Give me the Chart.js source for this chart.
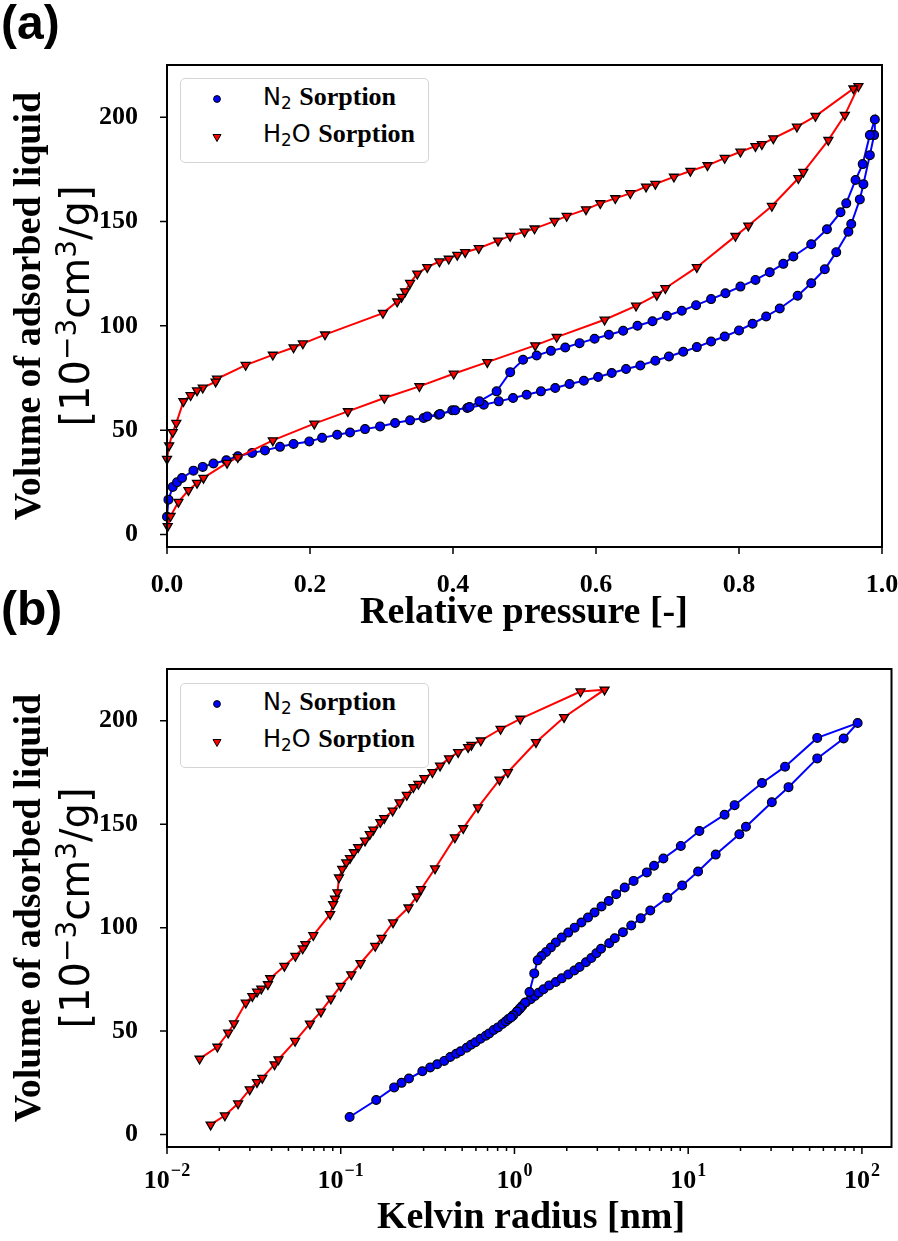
<!DOCTYPE html>
<html>
<head>
<meta charset="utf-8">
<script src="https://cdn.jsdelivr.net/npm/chart.js@4.4.0/dist/chart.umd.min.js"></script>
<style>
  body{margin:0;background:#fff}
  #page{position:relative;width:898px;height:1241px;overflow:hidden;background:#fff}
  #page canvas{position:absolute;left:0}
  .t{position:absolute;white-space:nowrap;color:#000}
  .serif{font-family:'Liberation Serif','Times New Roman',serif;font-weight:bold}
  .sans{font-family:'DejaVu Sans',sans-serif}
  .lbl{font-family:'Liberation Sans',Arial,sans-serif;font-weight:bold}
  .t sup,.t sub{line-height:0;font-size:0.7em}
  .t sup{vertical-align:0.45em}
  .t sub{vertical-align:-0.25em}
  .legend{position:absolute;box-sizing:border-box;border:1.5px solid #d4d4d4;border-radius:5px;background:#fff}
  .mk{position:absolute}
</style>
</head>
<body>
<div id="page">
  <canvas id="chartA" width="898" height="600" style="top:0"></canvas>
  <canvas id="chartB" width="898" height="641" style="top:600px"></canvas>
</div>
<script>
// ---- data: panel (a), relative pressure vs volume ----
const n2AdsP = [0,0.002,0.008,0.014,0.021,0.037,0.05,0.065,0.083,0.099,0.119,0.137,0.158,0.177,0.199,0.217,0.238,0.256,0.277,0.298,0.319,0.34,0.359,0.38,0.399,0.42,0.443,0.464,0.484,0.503,0.523,0.543,0.563,0.583,0.603,0.622,0.642,0.662,0.683,0.702,0.722,0.741,0.761,0.78,0.80,0.819,0.838,0.857,0.882,0.901,0.92,0.936,0.953,0.957,0.969,0.974,0.983,0.989,0.99];
const n2AdsV = [8.5,16.7,22.8,25,27.1,30.6,32.4,34,35.6,37.5,39.1,40.3,42,43.4,44.6,46.3,47.8,48.9,50.5,51.8,53.4,54.7,55.8,57.4,59.5,60.6,62.2,63.8,65.4,67,68.6,70.2,72.1,73.7,75.5,77.4,79.3,81,83.3,85.3,87.6,89.8,92.5,94.9,97.8,101,104.5,108.3,114.4,120.4,127.1,135.3,145.1,148.8,160.6,167.9,181.8,191.4,198.9];
const n2DesP = [0.983,0.973,0.963,0.95,0.942,0.923,0.901,0.876,0.862,0.843,0.823,0.802,0.781,0.761,0.74,0.72,0.699,0.679,0.658,0.638,0.618,0.598,0.577,0.557,0.537,0.517,0.498,0.48,0.461,0.437,0.423,0.403,0.382,0.364];
const n2DesV = [191.4,177.5,169.9,158.7,154.4,146.3,139.1,133.2,129.7,125.7,122,118.8,115.6,112.8,109.9,107.2,104.8,102.2,100,97.6,95.7,93.8,91.7,89.6,88,85.8,83.7,77.8,68.6,63.8,61.1,59.5,57.7,56.6];
const h2oAdsP = [0.001,0.005,0.016,0.03,0.042,0.051,0.084,0.099,0.148,0.206,0.253,0.304,0.353,0.401,0.448,0.515,0.545,0.612,0.656,0.685,0.697,0.741,0.795,0.813,0.846,0.883,0.89,0.925,0.948,0.967];
const h2oAdsV = [4,8.8,15.6,21.2,24.7,27.1,34.3,37,45.1,53.1,59,65.4,71,77,82.6,90.6,94.6,102.9,109.6,114.8,118,128.1,143,148,157.4,170.7,173.7,189,201,214.8];
const h2oDesP = [0.96,0.907,0.881,0.848,0.832,0.823,0.802,0.78,0.756,0.732,0.709,0.683,0.67,0.648,0.627,0.606,0.586,0.559,0.542,0.514,0.5,0.48,0.463,0.436,0.417,0.406,0.394,0.381,0.364,0.35,0.34,0.333,0.328,0.322,0.302,0.221,0.19,0.177,0.148,0.11,0.07,0.068,0.05,0.042,0.033,0.023,0.013,0.008,0.003,0];
const h2oDesV = [213.7,200.5,195.4,189.8,187,186.1,183.4,180.4,176.9,174.2,171.4,168,166.7,163.5,161.1,158.7,155.8,152.6,150.2,146.6,145.1,143.1,140.8,137.2,135.3,134,132.1,130.8,128.1,125,120.5,116.5,113.8,111.6,106.1,95.8,91.5,89.6,86.1,81.2,74.6,73.2,70.3,69,66.7,63.8,53.4,49,42.7,36.2];

// ---- data: panel (b), Kelvin radius [nm] vs volume ----
const n2AdsR = [0.1125,0.16,0.203,0.224,0.247,0.295,0.327,0.359,0.394,0.427,0.462,0.490,0.531,0.562,0.596,0.638,0.684,0.716,0.759,0.804,0.851,0.891,0.923,0.977,1.035,1.067,1.109,1.161,1.24,1.31,1.38,1.47,1.585,1.73,1.87,2.04,2.21,2.37,2.58,2.77,2.96,3.15,3.51,3.78,4.21,4.70,5.33,6.05,7.59,9.23,11.4,14.4,19.7,21.5,30.3,37.8,55.3,78.5,94.5];
const n2DesR = [55.3,36.1,26.6,18.5,16.2,11.6,9.07,7.2,6.36,5.78,4.85,4.31,3.85,3.49,3.17,2.89,2.65,2.43,2.22,2.04,1.87,1.73,1.62,1.52,1.43,1.36,1.30,1.22,1.15,1.08,1.035,0.985,0.955];
const n2DesVb = [191.7,177.8,169.9,159.2,154.6,146.7,139.5,133.4,129.9,126.7,122.6,119.4,116.2,112.9,110.2,107.3,104.9,102.5,100,97.6,95.2,92.8,90.4,88.2,86.3,84.2,77.9,68.9,63.7,61.1,59.5,57.7,56.6];
const h2oAdsR = [0.01783,0.02153,0.02566,0.02993,0.03295,0.03537,0.0416,0.0438,0.0546,0.0665,0.0769,0.0877,0.100,0.115,0.130,0.158,0.172,0.200,0.2455,0.274,0.290,0.349,0.454,0.507,0.617,0.820,0.916,1.33,1.93,3.30];
const h2oAdsVb = [4.8,9.2,15,21.8,25.3,27.4,33.9,36.3,45.2,53.6,59.4,65.7,71.8,77.4,82.8,91.1,95,102.5,109.7,115,118.6,128.6,143.6,148,158.1,171.5,175.1,189.6,201.7,215];
const h2oDesR = [2.40,1.08,0.832,0.640,0.565,0.541,0.474,0.420,0.373,0.337,0.303,0.280,0.262,0.240,0.218,0.199,0.178,0.169,0.154,0.147,0.138,0.126,0.119,0.113,0.1076,0.102,0.0977,0.0957,0.0927,0.0904,0.0869,0.0695,0.0626,0.0604,0.0548,0.0474,0.0393,0.0381,0.0349,0.0330,0.0310,0.0284,0.0243,0.0225,0.0195,0.0154];
const h2oDesVb = [214.1,200.9,196,190.4,188.3,187.2,184.8,181.8,178.3,175.1,172.2,169.4,167.8,164.1,160.5,156.5,152.9,150.9,147.3,145.2,142,138.8,136.4,133.6,131.5,128.3,124.2,117,114,111.3,106.5,96.3,92,89.9,86.3,81.5,75.5,72.6,70.5,69,66.9,63.7,53.7,49.2,42.4,36.6];

// ---- ticks ----
const yTicks = [0,50,100,150,200];
const yLabels = ['0','50','100','150','200'];
const xTicksA = [0,0.2,0.4,0.6,0.8,1.0];
const xLabelsA = ['0.0','0.2','0.4','0.6','0.8','1.0'];
const xTicksB = [0.01,0.1,1,10,100];
const xExpB = ['\u22122','\u22121','0','1','2'];

// ---- helpers ----
const page = document.getElementById('page');
const SERIF = '"Liberation Serif","Times New Roman",serif';
const tickFont = { family: SERIF, weight: 'bold', size: 26 };
const pts = (xs, ys) => xs.map((x, i) => ({ x, y: ys[i] }));

const n2Style = {
  showLine: true, borderColor: '#0000ff', borderWidth: 2, clip: 6,
  pointStyle: 'circle', pointRadius: 4.4, pointHoverRadius: 4.4,
  pointBackgroundColor: '#0000ff', pointBorderColor: '#000', pointBorderWidth: 1.2
};
const h2oStyle = {
  showLine: true, borderColor: '#ff0000', borderWidth: 2, clip: 6,
  pointStyle: 'triangle', pointRotation: 180, pointRadius: 5.2, pointHoverRadius: 5.2,
  pointBackgroundColor: '#ff0000', pointBorderColor: '#000', pointBorderWidth: 1.3
};

// frame + outward tick marks, like the matplotlib axes box
function framePlugin(xMajor, xMinor, yMajor, logLabels) {
  return {
    id: 'frame',
    afterDraw(chart) {
      const { ctx, chartArea: a, scales: { x, y } } = chart;
      ctx.save();
      ctx.strokeStyle = '#000';
      ctx.lineWidth = 1.5;
      ctx.beginPath();
      xMajor.forEach(v => { const p = x.getPixelForValue(v); ctx.moveTo(p, a.bottom); ctx.lineTo(p, a.bottom + 7); });
      xMinor.forEach(v => { const p = x.getPixelForValue(v); ctx.moveTo(p, a.bottom); ctx.lineTo(p, a.bottom + 4); });
      yMajor.forEach(v => { const p = y.getPixelForValue(v); ctx.moveTo(a.left, p); ctx.lineTo(a.left - 7, p); });
      ctx.stroke();
      ctx.lineWidth = 2;
      ctx.strokeRect(a.left, a.top, a.right - a.left, a.bottom - a.top);
      if (logLabels) {
        ctx.fillStyle = '#000';
        ctx.textBaseline = 'alphabetic';
        ctx.textAlign = 'left';
        const base = a.bottom + 41;
        xMajor.forEach((v, i) => {
          const p = x.getPixelForValue(v);
          ctx.font = 'bold 26px ' + SERIF;
          const w1 = ctx.measureText('10').width;
          ctx.font = 'bold 18px ' + SERIF;
          const w2 = ctx.measureText(xExpB[i]).width;
          const left = p - (w1 + w2 + 1) / 2;
          ctx.font = 'bold 26px ' + SERIF;
          ctx.fillText('10', left, base);
          ctx.font = 'bold 18px ' + SERIF;
          ctx.fillText(xExpB[i], left + w1 + 1, base - 12);
        });
      }
      ctx.restore();
    }
  };
}

const yScale = {
  min: -6, max: 225,
  afterFit: s => { s.width = 167; s.paddingTop = 0; s.paddingBottom = 0; },
  afterBuildTicks: s => { s.ticks = yTicks.map(v => ({ value: v })); },
  grid: { display: false }, border: { display: false },
  ticks: { callback: (v, i) => yLabels[i], font: tickFont, color: '#000', padding: 21, autoSkip: false }
};

// ---- panel (a) ----
new Chart(document.getElementById('chartA'), {
  type: 'scatter',
  data: { datasets: [
    { label: 'H2O Sorption', data: pts(h2oAdsP.concat(h2oDesP), h2oAdsV.concat(h2oDesV)), ...h2oStyle },
    { label: 'N2 Sorption', data: pts(n2AdsP.concat(n2DesP), n2AdsV.concat(n2DesV)), ...n2Style }
  ] },
  options: {
    responsive: false, animation: false, events: [],
    layout: { padding: { top: 65, right: 16, bottom: 0, left: 0 } },
    plugins: { legend: { display: false }, tooltip: { enabled: false } },
    scales: {
      x: {
        type: 'linear', min: 0, max: 1,
        afterFit: s => { s.height = 53; s.paddingLeft = 0; s.paddingRight = 0; },
        afterBuildTicks: s => { s.ticks = xTicksA.map(v => ({ value: v })); },
        grid: { display: false }, border: { display: false },
        ticks: { callback: (v, i) => xLabelsA[i], font: tickFont, color: '#000', padding: 15, maxRotation: 0, autoSkip: false }
      },
      y: yScale
    }
  },
  plugins: [framePlugin(xTicksA, [], yTicks, false)]
});

// ---- panel (b) ----
const xMinorB = [];
xTicksB.forEach(d => { for (let m = 2; m <= 9; m++) if (m * d <= 148) xMinorB.push(m * d); });

new Chart(document.getElementById('chartB'), {
  type: 'scatter',
  data: { datasets: [
    { label: 'H2O Sorption', data: pts(h2oAdsR.concat(h2oDesR), h2oAdsVb.concat(h2oDesVb)), ...h2oStyle },
    { label: 'N2 Sorption', data: pts(n2AdsR.concat(n2DesR), n2AdsV.concat(n2DesVb)), ...n2Style }
  ] },
  options: {
    responsive: false, animation: false, events: [],
    layout: { padding: { top: 69, right: 2, bottom: 0, left: 0 } },
    plugins: { legend: { display: false }, tooltip: { enabled: false } },
    scales: {
      x: {
        type: 'logarithmic', min: 0.01, max: 148,
        afterFit: s => { s.height = 94; s.paddingLeft = 0; s.paddingRight = 0; },
        grid: { display: false }, border: { display: false },
        ticks: { display: false }
      },
      y: yScale
    }
  },
  plugins: [framePlugin(xTicksB, xMinorB, yTicks, true)]
});

// ---- html text: titles, panel letters, legends ----
const K_SERIF = 0.8375, K_SANS = 0.846;
function text(html, cls, fs, k, x, baseline, center) {
  const d = document.createElement('div');
  d.className = 't ' + cls;
  d.style.fontSize = fs + 'px';
  d.style.lineHeight = fs + 'px';
  d.style.top = (baseline - k * fs) + 'px';
  if (center) { d.style.left = (x - 400) + 'px'; d.style.width = '800px'; d.style.textAlign = 'center'; }
  else d.style.left = x + 'px';
  d.innerHTML = html;
  page.appendChild(d);
}
function vtext(html, cls, fs, k, baseX, cy) {
  const d = document.createElement('div');
  d.className = 't ' + cls;
  const cx = baseX - k * fs + fs / 2;
  d.style.fontSize = fs + 'px';
  d.style.lineHeight = fs + 'px';
  d.style.width = '700px';
  d.style.height = fs + 'px';
  d.style.textAlign = 'center';
  d.style.left = (cx - 350) + 'px';
  d.style.top = (cy - fs / 2) + 'px';
  d.style.transform = 'rotate(-90deg)';
  d.innerHTML = html;
  page.appendChild(d);
}
function legend(top) {
  const box = document.createElement('div');
  box.className = 'legend';
  box.style.left = '180px'; box.style.top = top + 'px';
  box.style.width = '249px'; box.style.height = '85px';
  page.appendChild(box);
  const c = document.createElementNS('http://www.w3.org/2000/svg', 'svg');
  c.setAttribute('class', 'mk');
  c.setAttribute('width', '20'); c.setAttribute('height', '70');
  c.style.left = '207px'; c.style.top = (top + 10) + 'px';
  c.innerHTML = '<circle cx="10" cy="11" r="3.4" fill="#0000ff" stroke="#000" stroke-width="1"/>' +
                '<polygon points="6,46.5 14,46.5 10,53.5" fill="#ff0000" stroke="#000" stroke-width="1"/>';
  page.appendChild(c);
  text('N<sub>2</sub> <span class="serif" style="font-size:26px">Sorption</span>', 'sans', 24, K_SANS, 263, top + 27);
  text('H<sub>2</sub>O <span class="serif" style="font-size:26px">Sorption</span>', 'sans', 24, K_SANS, 263, top + 64.5);
}

// panel letters
text('(a)', 'lbl', 48, K_SANS, 1, 40);
text('(b)', 'lbl', 48, K_SANS, 1, 626);

// axis titles
text('Relative pressure [-]', 'serif', 38, K_SERIF, 524, 623, true);
text('Kelvin radius [nm]', 'serif', 38, K_SERIF, 531, 1228, true);
[306, 908].forEach(cy => {
  vtext('Volume of adsorbed liquid', 'serif', 38, K_SERIF, 40, cy);
  vtext('[10<sup>\u22123</sup>cm<sup>3</sup>/g]', 'sans', 40, K_SANS, 89, cy);
});

legend(78);
legend(683);
</script>
</body>
</html>
